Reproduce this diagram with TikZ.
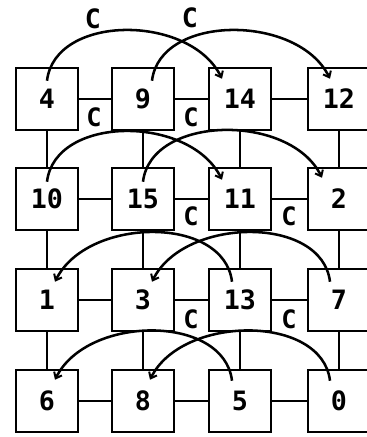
\documentclass[tikz,border=0pt]{standalone}
\usepackage{fontspec}
\setmonofont{DejaVu Sans Mono}
\usetikzlibrary{calc,arrows.meta}
\begin{document}
\begin{tikzpicture}[x=0.75pt,y=-0.75pt,
  cell/.style={draw,line width=1.9pt,minimum width=46.5pt,minimum height=46.5pt,inner sep=0pt,font=\ttfamily\bfseries\fontsize{20}{20}\selectfont},
  link/.style={line width=1.9pt},
  arc/.style={line width=1.9pt,-{Straight Barb[length=4pt,width=6.5pt,line width=1.5pt]}},
  lab/.style={inner sep=0pt,font=\ttfamily\bfseries\fontsize{20}{20}\selectfont},
  slab/.style={inner sep=0pt,font=\ttfamily\bfseries\fontsize{19}{19}\selectfont}]
\useasboundingbox (0,0) rectangle (367,437);
\clip (0,0) rectangle (367,437);
% boxes
\node[cell] (n4)  at (47,99)  {4};
\node[cell] (n9)  at (143,99) {9};
\node[cell] (n14) at (240,99) {14};
\node[cell] (n12) at (339,99) {12};
\node[cell] (n10) at (47,199)  {10};
\node[cell] (n15) at (143,199) {15};
\node[cell] (n11) at (240,199) {11};
\node[cell] (n2)  at (339,199) {2};
\node[cell] (n1)  at (47,300)  {1};
\node[cell] (n3)  at (143,300) {3};
\node[cell] (n13) at (240,300) {13};
\node[cell] (n7)  at (339,300) {7};
\node[cell] (n6)  at (47,401)  {6};
\node[cell] (n8)  at (143,401) {8};
\node[cell] (n5)  at (240,401) {5};
\node[cell] (n0)  at (339,401) {0};
% horizontal links
\foreach \a/\b in {n4/n9,n9/n14,n14/n12,n10/n15,n15/n11,n11/n2,n1/n3,n3/n13,n13/n7,n6/n8,n8/n5,n5/n0}
  \draw[link] (\a) -- (\b);
% vertical links
\foreach \a/\b in {n4/n10,n10/n1,n1/n6,n9/n15,n15/n3,n3/n8,n14/n11,n11/n13,n13/n5,n12/n2,n2/n7,n7/n0}
  \draw[link] (\a) -- (\b);
% row 1 arcs
\coordinate (t4) at ($(n4.north)+(0,14)$);
\coordinate (h14) at ($(n14.north)+(-18,12)$);
\coordinate (t9) at ($(n9.north)+(9,14)$);
\coordinate (h12) at ($(n12.north)+(-9,12)$);
\draw[arc] (t4) .. controls +(8,-67) and +(-32,-65) .. (h14);
\draw[arc] (t9) .. controls +(8,-67) and +(-32,-65) .. (h12);
% row 2 arcs
\coordinate (t10) at ($(n10.north)+(0,15)$);
\coordinate (h11) at ($(n11.north)+(-18,13)$);
\coordinate (t15) at ($(n15.north)+(0,15)$);
\coordinate (h2) at ($(n2.north)+(-17,11)$);
\draw[arc] (t10) .. controls +(8,-67) and +(-32,-65) .. (h11);
\draw[arc] (t15) .. controls +(8,-67) and +(-32,-65) .. (h2);
% row 3 arcs
\coordinate (t13) at ($(n13.north)+(-8,14)$);
\coordinate (h1) at ($(n1.north)+(8,14)$);
\coordinate (t7) at ($(n7.north)+(-9,14)$);
\coordinate (h3) at ($(n3.north)+(9,14)$);
\draw[arc] (t13) .. controls +(-8,-67) and +(32,-65) .. (h1);
\draw[arc] (t7) .. controls +(-8,-67) and +(32,-65) .. (h3);
% row 4 arcs
\coordinate (t5) at ($(n5.north)+(-8,12)$);
\coordinate (h6) at ($(n6.north)+(8,11)$);
\coordinate (t0) at ($(n0.north)+(-9,12)$);
\coordinate (h8) at ($(n8.north)+(7,11)$);
\draw[arc] (t5) .. controls +(-8,-67) and +(32,-65) .. (h6);
\draw[arc] (t0) .. controls +(-8,-67) and +(32,-65) .. (h8);
% labels
\node[lab] (c1) at (93,19) {C};
\node[lab] (c2) at (190,18) {C};
\node[slab] (c3) at (94,117) {C};
\node[slab] (c4) at (191,117) {C};
\node[slab] (c5) at (191,216) {C};
\node[slab] (c6) at (289,216) {C};
\node[slab] (c7) at (191,319) {C};
\node[slab] (c8) at (289,319) {C};
\end{tikzpicture}
\end{document}
